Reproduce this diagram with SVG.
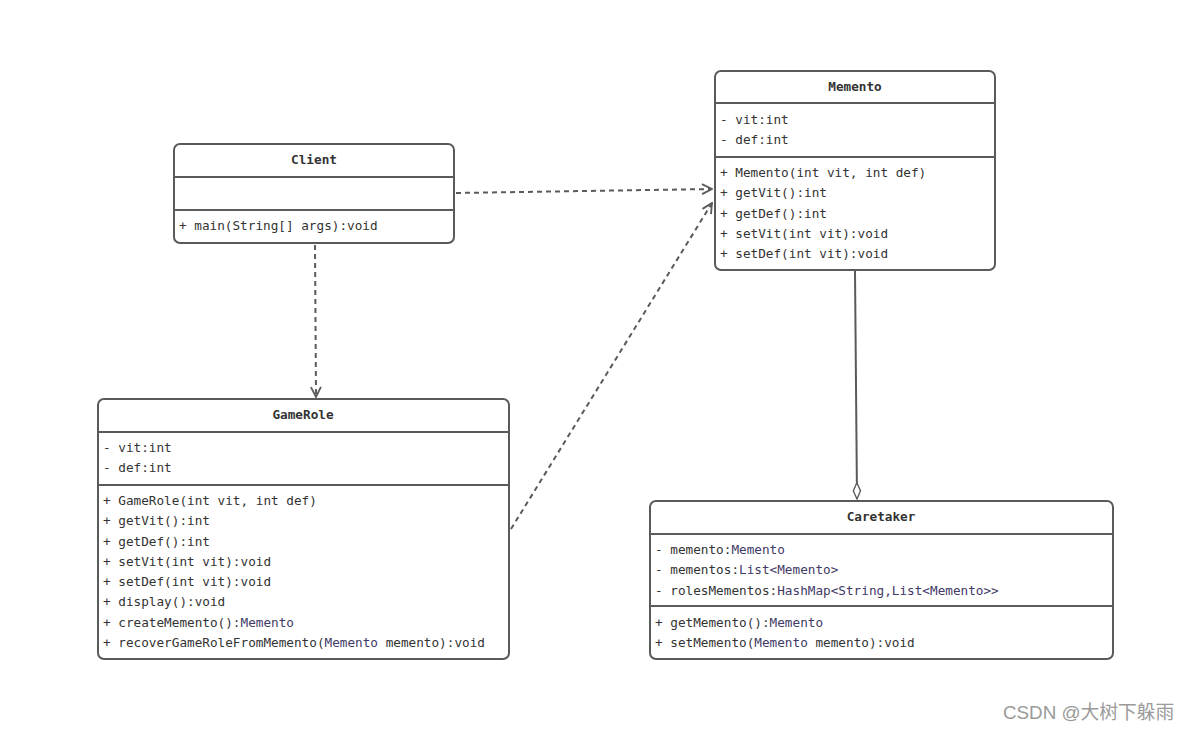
<svg xmlns="http://www.w3.org/2000/svg" width="1191" height="731" viewBox="0 0 1191 731">
<style>
.box{fill:#fff;stroke:#5a5a5a;stroke-width:2}
.sep{stroke:#5a5a5a;stroke-width:2}
.t{font-family:"DejaVu Sans Mono","Liberation Mono",monospace;font-size:12.7px;fill:#333}
.h{font-family:"DejaVu Sans Mono","Liberation Mono",monospace;font-size:12.7px;font-weight:bold;fill:#333;text-anchor:middle}
.ty{fill:#3f3a66}
.dash{fill:none;stroke:#5a5a5a;stroke-width:2;stroke-dasharray:5,4}
.solid{fill:none;stroke:#5a5a5a;stroke-width:2}
.wm{font-family:"Liberation Sans","Noto Sans CJK SC",sans-serif;font-size:18.8px;fill:#9a9a9a}
</style>
<defs>
<marker id="open" viewBox="0 0 12 12" refX="11" refY="6" markerWidth="12" markerHeight="12" markerUnits="userSpaceOnUse" orient="auto">
<path d="M1,1 L11,6 L1,11" fill="none" stroke="#5a5a5a" stroke-width="1.8"/>
</marker>
<marker id="diamond" viewBox="0 0 20 10" refX="19" refY="5" markerWidth="18" markerHeight="10" markerUnits="userSpaceOnUse" orient="auto">
<path d="M1,5 L10,1 L19,5 L10,9 Z" fill="#fff" stroke="#5a5a5a" stroke-width="1.5"/>
</marker>
</defs>
<rect width="1191" height="731" fill="#fff"/>
<g id="connectors">
<path class="dash" d="M456,193 L712,189" marker-end="url(#open)"/>
<path class="dash" d="M315,245 L316,397" marker-end="url(#open)"/>
<path class="dash" d="M511,529 L712,203" marker-end="url(#open)"/>
<path class="solid" d="M855,271 L857,499" marker-end="url(#diamond)"/>
</g>
<g id="client">
<rect class="box" x="174" y="144" width="280" height="99" rx="6"/>
<line class="sep" x1="174" y1="177" x2="454" y2="177"/>
<line class="sep" x1="174" y1="210" x2="454" y2="210"/>
<text class="h" x="314" y="164">Client</text>
<text class="t" x="179" y="230">+ main(String[] args):void</text>
</g>
<g id="memento">
<rect class="box" x="715" y="71" width="280" height="199" rx="6"/>
<line class="sep" x1="715" y1="103" x2="995" y2="103"/>
<line class="sep" x1="715" y1="157" x2="995" y2="157"/>
<text class="h" x="855" y="91">Memento</text>
<text class="t" x="720" y="124">- vit:int</text>
<text class="t" x="720" y="144">- def:int</text>
<text class="t" x="720" y="177">+ Memento(int vit, int def)</text>
<text class="t" x="720" y="197">+ getVit():int</text>
<text class="t" x="720" y="218">+ getDef():int</text>
<text class="t" x="720" y="238">+ setVit(int vit):void</text>
<text class="t" x="720" y="258">+ setDef(int vit):void</text>
</g>
<g id="gamerole">
<rect class="box" x="98" y="399" width="411" height="260" rx="6"/>
<line class="sep" x1="98" y1="432" x2="509" y2="432"/>
<line class="sep" x1="98" y1="485" x2="509" y2="485"/>
<text class="h" x="303" y="419">GameRole</text>
<text class="t" x="103" y="452">- vit:int</text>
<text class="t" x="103" y="472">- def:int</text>
<text class="t" x="103" y="505">+ GameRole(int vit, int def)</text>
<text class="t" x="103" y="525">+ getVit():int</text>
<text class="t" x="103" y="546">+ getDef():int</text>
<text class="t" x="103" y="566">+ setVit(int vit):void</text>
<text class="t" x="103" y="586">+ setDef(int vit):void</text>
<text class="t" x="103" y="606">+ display():void</text>
<text class="t" x="103" y="627">+ createMemento():<tspan class="ty">Memento</tspan></text>
<text class="t" x="103" y="647">+ recoverGameRoleFromMemento(<tspan class="ty">Memento</tspan> memento):void</text>
</g>
<g id="caretaker">
<rect class="box" x="650" y="501" width="463" height="158" rx="6"/>
<line class="sep" x1="650" y1="534" x2="1113" y2="534"/>
<line class="sep" x1="650" y1="606" x2="1113" y2="606"/>
<text class="h" x="881" y="521">Caretaker</text>
<text class="t" x="655" y="554">- memento:<tspan class="ty">Memento</tspan></text>
<text class="t" x="655" y="574">- mementos:<tspan class="ty">List&lt;Memento&gt;</tspan></text>
<text class="t" x="655" y="595">- rolesMementos:<tspan class="ty">HashMap&lt;String,List&lt;Memento&gt;&gt;</tspan></text>
<text class="t" x="655" y="627">+ getMemento():<tspan class="ty">Memento</tspan></text>
<text class="t" x="655" y="647">+ setMemento(<tspan class="ty">Memento</tspan> memento):void</text>
</g>
<text class="wm" x="1003" y="719">CSDN @大树下躲雨</text>
</svg>
